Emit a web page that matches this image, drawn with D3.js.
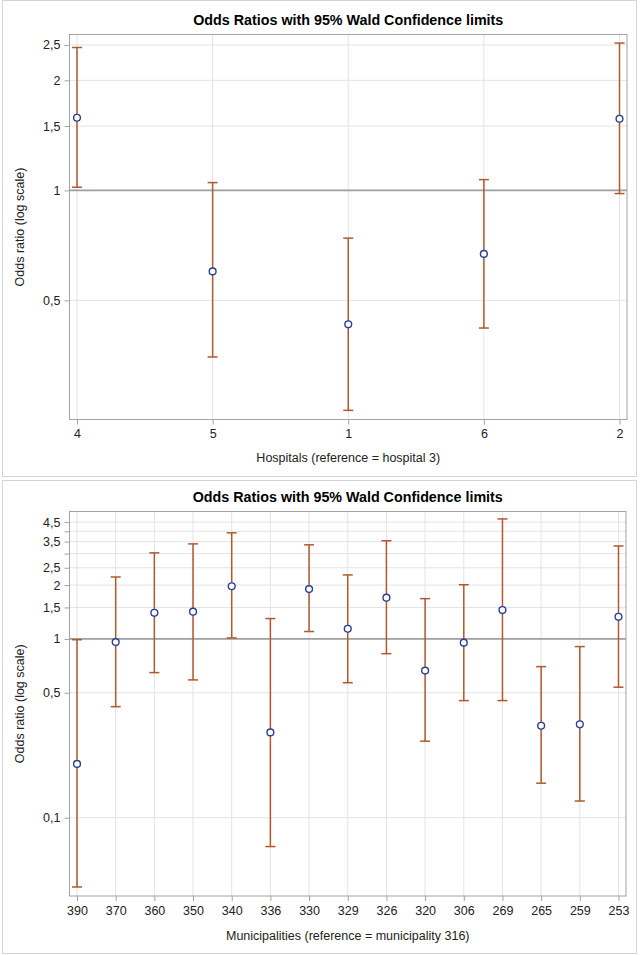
<!DOCTYPE html>
<html>
<head>
<meta charset="utf-8">
<script src="https://cdn.jsdelivr.net/npm/d3@7/dist/d3.min.js"></script>
<style>
  body { margin: 0; background: #fff; }
  svg { display: block; font-family: "Liberation Sans", Arial, sans-serif; }
</style>
</head>
<body>
<svg id="chart" width="640" height="955"></svg>
<script>
// ---------- data ----------
const chartTitle = "Odds Ratios with 95% Wald Confidence limits";
const yTitle = "Odds ratio (log scale)";

const hospCats  = ["4", "5", "1", "6", "2"];
const hospOR    = [1.58, 0.60, 0.43, 0.67, 1.57];
const hospLower = [1.02, 0.35, 0.25, 0.42, 0.98];
const hospUpper = [2.46, 1.05, 0.74, 1.07, 2.53];
const hospTickLabels = [0.5, 1, 1.5, 2, 2.5];
const hospGridVals   = [0.5, 1, 1.5, 2, 2.5];
const hospXTitle = "Hospitals (reference = hospital 3)";

const muniCats  = ["390", "370", "360", "350", "340", "336", "330", "329", "326", "320", "306", "269", "265", "259", "253"];
const muniOR    = [0.20, 0.96, 1.40, 1.42, 1.97, 0.30, 1.90, 1.14, 1.70, 0.665, 0.953, 1.45, 0.327, 0.333, 1.33];
const muniLower = [0.041, 0.418, 0.648, 0.590, 1.013, 0.069, 1.10, 0.569, 0.827, 0.268, 0.452, 0.452, 0.156, 0.124, 0.537];
const muniUpper = [0.99, 2.22, 3.03, 3.40, 3.92, 1.30, 3.36, 2.28, 3.54, 1.68, 2.01, 4.69, 0.70, 0.906, 3.31];
const muniTickLabels = [0.1, 0.5, 1, 1.5, 2, 2.5, 3.5, 4.5];
const muniGridVals   = [0.1, 0.5, 1, 1.5, 2, 2.5, 3, 3.5, 4, 4.5];
const muniXTitle = "Municipalities (reference = municipality 316)";

// ---------- styles ----------
const barColor = "#B0592F";
const markColor = "#2B3F93";
const gridColor = "#E3E3E3";
const frameColor = "#A3A3A3";
const refColor = "#A0A0A0";
const textColor = "#222";

const svg = d3.select("#chart");
const fmt = v => String(v).replace(".", ",");

function panel(cfg) {
  const g = svg.append("g");
  g.append("rect")
    .attr("x", cfg.box[0]).attr("y", cfg.box[1])
    .attr("width", cfg.box[2]).attr("height", cfg.box[3])
    .attr("fill", "none").attr("stroke", "#D4D4D4").attr("stroke-width", 1);

  const [L, T, R, B] = cfg.plot;
  const x = d3.scalePoint().domain(cfg.cats).range([L + 7.5, R - 7.5]).padding(0);
  const y = d3.scaleLog().domain(cfg.domain).range([B, T]);

  g.append("g").selectAll("line.h").data(cfg.grid).join("line")
    .attr("x1", L).attr("x2", R)
    .attr("y1", d => y(d)).attr("y2", d => y(d))
    .attr("stroke", gridColor).attr("stroke-width", 1);
  g.append("g").selectAll("line.v").data(cfg.cats).join("line")
    .attr("x1", d => x(d)).attr("x2", d => x(d))
    .attr("y1", T).attr("y2", B)
    .attr("stroke", gridColor).attr("stroke-width", 1);

  const yAxis = d3.axisLeft(y).tickValues(cfg.grid).tickSize(5).tickPadding(4)
    .tickFormat(d => cfg.labels.includes(d) ? fmt(d) : "");
  const ya = g.append("g").attr("transform", `translate(${L},0)`).call(yAxis);
  ya.select(".domain").remove();
  ya.selectAll(".tick line").attr("stroke", frameColor);
  ya.selectAll(".tick text").attr("fill", textColor).style("font-size", "12.5px")
    .style("font-family", "Liberation Sans, Arial, sans-serif");

  const xAxis = d3.axisBottom(x).tickSize(5).tickPadding(5);
  const xa = g.append("g").attr("transform", `translate(0,${B})`).call(xAxis);
  xa.select(".domain").remove();
  xa.selectAll(".tick line").attr("stroke", frameColor);
  xa.selectAll(".tick text").attr("fill", textColor).style("font-size", "12.5px")
    .style("font-family", "Liberation Sans, Arial, sans-serif");

  g.append("rect").attr("x", L).attr("y", T).attr("width", R - L).attr("height", B - T)
    .attr("fill", "none").attr("stroke", frameColor).attr("stroke-width", 1);

  g.append("line").attr("x1", L).attr("x2", R).attr("y1", y(1)).attr("y2", y(1))
    .attr("stroke", refColor).attr("stroke-width", 1.8);

  const rows = cfg.cats.map((c, i) => ({ c, or: cfg.or[i], lo: cfg.lo[i], hi: cfg.hi[i] }));
  const eb = g.append("g").attr("stroke", barColor).attr("stroke-width", 1.5);
  eb.selectAll("line.s").data(rows).join("line")
    .attr("x1", d => x(d.c)).attr("x2", d => x(d.c))
    .attr("y1", d => y(d.lo)).attr("y2", d => y(d.hi));
  eb.selectAll("line.lo").data(rows).join("line")
    .attr("x1", d => x(d.c) - 5).attr("x2", d => x(d.c) + 5)
    .attr("y1", d => y(d.lo)).attr("y2", d => y(d.lo));
  eb.selectAll("line.hi").data(rows).join("line")
    .attr("x1", d => x(d.c) - 5).attr("x2", d => x(d.c) + 5)
    .attr("y1", d => y(d.hi)).attr("y2", d => y(d.hi));

  g.append("g").selectAll("circle").data(rows).join("circle")
    .attr("cx", d => x(d.c)).attr("cy", d => y(d.or)).attr("r", 3.4)
    .attr("fill", "#fff").attr("stroke", markColor).attr("stroke-width", 1.4);

  g.append("text").attr("x", (L + R) / 2).attr("y", cfg.titleY)
    .attr("text-anchor", "middle").attr("font-weight", "bold").attr("font-size", 14.3)
    .attr("fill", "#000").text(chartTitle);
  g.append("text").attr("x", (L + R) / 2).attr("y", cfg.xTitleY)
    .attr("text-anchor", "middle").attr("font-size", 12.5).attr("fill", textColor)
    .text(cfg.xTitle);
  g.append("text")
    .attr("transform", `translate(24,${(T + B) / 2}) rotate(-90)`)
    .attr("text-anchor", "middle").attr("font-size", 12.5).attr("fill", textColor)
    .text(yTitle);
}

panel({
  box: [2.5, 0.5, 634, 476],
  plot: [69.5, 34.5, 627, 419.5],
  domain: [0.236, 2.67],
  cats: hospCats, or: hospOR, lo: hospLower, hi: hospUpper,
  grid: hospGridVals, labels: hospTickLabels,
  titleY: 25, xTitleY: 462, xTitle: hospXTitle
});

panel({
  box: [2.5, 480.5, 634, 473],
  plot: [69.5, 511.5, 626, 896],
  domain: [0.0365, 5.16],
  cats: muniCats, or: muniOR, lo: muniLower, hi: muniUpper,
  grid: muniGridVals, labels: muniTickLabels,
  titleY: 502, xTitleY: 940, xTitle: muniXTitle
});
</script>
</body>
</html>
